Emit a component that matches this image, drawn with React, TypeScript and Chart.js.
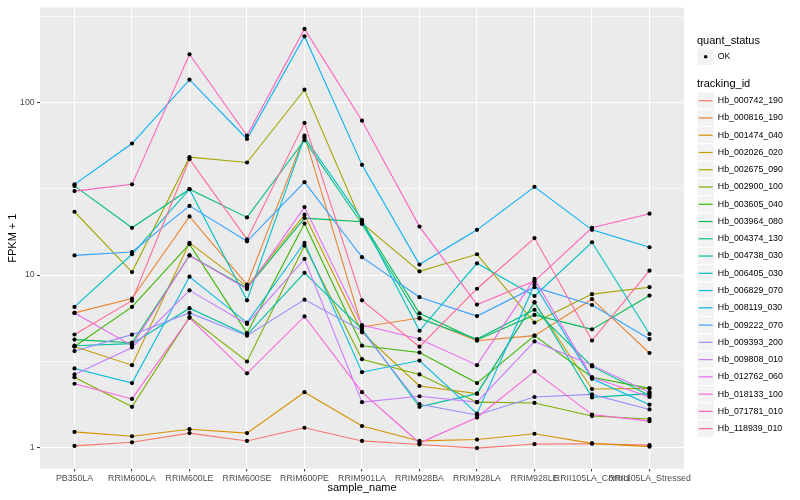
import React, { useEffect, useRef } from "react";
import { Chart, registerables } from "chart.js";
Chart.register(...registerables);

const sampleNames = [
  "PB350LA", "RRIM600LA", "RRIM600LE", "RRIM600SE", "RRIM600PE", "RRIM901LA",
  "RRIM928BA", "RRIM928LA", "RRIM928LE", "RRII105LA_Control", "RRII105LA_Stressed",
];

const trackingIds = [
  "Hb_000742_190", "Hb_000816_190", "Hb_001474_040", "Hb_002026_020", "Hb_002675_090",
  "Hb_002900_100", "Hb_003605_040", "Hb_003964_080", "Hb_004374_130", "Hb_004738_030",
  "Hb_006405_030", "Hb_006829_070", "Hb_008119_030", "Hb_009222_070", "Hb_009393_200",
  "Hb_009808_010", "Hb_012762_060", "Hb_018133_100", "Hb_071781_010", "Hb_118939_010",
];

const seriesColors = [
  "#F8766D", "#EA8331", "#D89000", "#C09B00", "#A3A500", "#7CAE00", "#39B600", "#00BB4E",
  "#00BF7D", "#00C1A3", "#00BFC4", "#00BAE0", "#00B0F6", "#35A2FF", "#9590FF", "#C77CFF",
  "#E76BF3", "#FA62DB", "#FF62BC", "#FF6C91",
];

// FPKM + 1 values per sample (same order as sampleNames)
const hb000742_190 = [1.02, 1.07, 1.21, 1.09, 1.3, 1.09, 1.04, 0.99, 1.045, 1.05, 1.03];
const hb000816_190 = [6.03, 7.3, 21.9, 8.8, 64.4, 5.0, 5.63, 4.16, 4.45, 7.24, 3.53];
const hb001474_040 = [1.23, 1.16, 1.275, 1.21, 2.09, 1.33, 1.09, 1.11, 1.2, 1.055, 1.01];
const hb002026_020 = [3.85, 3.0, 15.4, 8.6, 22.4, 4.65, 2.27, 2.05, 6.93, 2.18, 2.2];
const hb002675_090 = [23.3, 10.4, 48.3, 45.0, 119, 20.0, 10.5, 13.2, 5.3, 7.75, 8.5];
const hb002900_100 = [2.55, 1.72, 5.7, 3.15, 14.8, 3.25, 2.65, 1.83, 1.81, 1.52, 1.46];
const hb003605_040 = [3.85, 6.53, 15.1, 4.6, 19.9, 3.89, 3.55, 2.36, 4.45, 2.55, 2.2];
const hb003964_080 = [4.22, 4.05, 13.0, 8.4, 21.4, 20.4, 6.0, 4.2, 5.87, 4.84, 7.6];
const hb004374_130 = [32.9, 18.8, 31.5, 21.6, 60.6, 19.8, 5.6, 4.25, 6.29, 2.95, 2.0];
const hb004738_030 = [3.89, 4.0, 6.42, 4.5, 10.3, 4.86, 1.72, 2.05, 6.97, 1.95, 2.05];
const hb006405_030 = [6.53, 13.2, 31.5, 7.13, 63.0, 20.9, 4.75, 11.7, 7.56, 15.5, 4.55];
const hb006829_070 = [2.87, 2.36, 9.78, 5.3, 15.4, 2.73, 3.19, 1.57, 8.81, 2.5, 1.77];
const hb008119_030 = [33.6, 58.0, 136, 61.6, 243, 43.6, 11.5, 18.3, 32.5, 18.3, 14.5];
const hb009222_070 = [13.0, 13.6, 25.2, 15.7, 34.6, 12.7, 7.44, 5.78, 8.5, 6.7, 4.25];
const hb009393_200 = [3.62, 4.51, 6.03, 4.45, 7.2, 4.75, 1.78, 1.54, 1.96, 2.03, 1.66];
const hb009808_010 = [2.65, 3.8, 8.15, 5.2, 12.4, 1.83, 1.98, 1.83, 4.12, 3.0, 2.09];
const hb012762_060 = [6.03, 3.9, 13.0, 8.3, 24.8, 5.12, 4.25, 3.0, 9.5, 2.55, 1.96];
const hb018133_100 = [2.34, 1.91, 5.65, 2.69, 5.75, 2.09, 1.06, 1.49, 2.76, 1.55, 1.42];
const hb071781_010 = [30.7, 33.6, 191, 64.5, 268, 78.7, 19.1, 6.74, 9.22, 18.8, 22.7];
const hb118939_010 = [4.52, 7.1, 47, 16.1, 76.4, 7.13, 3.84, 8.33, 16.4, 4.17, 10.6];

const seriesValues = [
  hb000742_190, hb000816_190, hb001474_040, hb002026_020, hb002675_090,
  hb002900_100, hb003605_040, hb003964_080, hb004374_130, hb004738_030,
  hb006405_030, hb006829_070, hb008119_030, hb009222_070, hb009393_200,
  hb009808_010, hb012762_060, hb018133_100, hb071781_010, hb118939_010,
];

const yTickValues = [1, Math.sqrt(10), 10, Math.sqrt(1000), 100, Math.sqrt(100000)];
const yTickLabels = ["1", "", "10", "", "100", ""];
const legendStatus = ["OK"];

const FONT = '"Liberation Sans", Arial, sans-serif';

const panelBg = {
  id: "panelBg",
  beforeDraw(chart: any) {
    const { ctx, chartArea: a } = chart;
    ctx.save();
    ctx.fillStyle = "#EBEBEB";
    ctx.fillRect(a.left, a.top, a.right - a.left, a.bottom - a.top);
    ctx.restore();
  },
};

const ggLegend = {
  id: "ggLegend",
  afterDraw(chart: any) {
    const ctx = chart.ctx;
    const x0 = 697;
    const key = 17.28;
    ctx.save();
    ctx.textBaseline = "middle";
    ctx.textAlign = "left";
    ctx.fillStyle = "#000000";
    ctx.font = `11px ${FONT}`;
    ctx.fillText("quant_status", x0, 41);
    legendStatus.forEach((s, i) => {
      const cy = 56.7 + i * key;
      ctx.fillStyle = "#F2F2F2";
      ctx.fillRect(x0, cy - key / 2, key, key);
      ctx.strokeStyle = "#FFFFFF";
      ctx.lineWidth = 1;
      ctx.strokeRect(x0, cy - key / 2, key, key);
      ctx.fillStyle = "#000000";
      ctx.beginPath();
      ctx.arc(x0 + key / 2, cy, 1.8, 0, Math.PI * 2);
      ctx.fill();
      ctx.font = `8.8px ${FONT}`;
      ctx.fillText(s, x0 + key + 3.5, cy);
    });
    ctx.font = `11px ${FONT}`;
    ctx.fillStyle = "#000000";
    ctx.fillText("tracking_id", x0, 84.3);
    trackingIds.forEach((id, i) => {
      const cy = 100.7 + i * 17.26;
      ctx.fillStyle = "#F2F2F2";
      ctx.fillRect(x0, cy - key / 2, key, key);
      ctx.strokeStyle = "#FFFFFF";
      ctx.lineWidth = 1;
      ctx.strokeRect(x0, cy - key / 2, key, key);
      ctx.strokeStyle = seriesColors[i];
      ctx.lineWidth = 1.2;
      ctx.beginPath();
      ctx.moveTo(x0 + 1.7, cy);
      ctx.lineTo(x0 + key - 1.7, cy);
      ctx.stroke();
      ctx.fillStyle = "#000000";
      ctx.font = `8.8px ${FONT}`;
      ctx.fillText(id, x0 + key + 3.5, cy);
    });
    ctx.restore();
  },
};

export default function App() {
  const ref = useRef<HTMLCanvasElement | null>(null);
  useEffect(() => {
    if (!ref.current) return;
    const lineSets = seriesValues.map((vals, si) => ({
      type: "line" as const,
      label: trackingIds[si],
      data: vals.map((v, i) => ({ x: i, y: v })),
      borderColor: seriesColors[si],
      backgroundColor: seriesColors[si],
      borderWidth: 1.1,
      pointRadius: 0,
      tension: 0,
      fill: false,
      order: 100 - si,
    }));
    const pointSet = {
      type: "scatter" as const,
      label: "quant_status",
      data: seriesValues.flatMap((vals) => vals.map((v, i) => ({ x: i, y: v }))),
      backgroundColor: "#000000",
      borderWidth: 0,
      pointRadius: 2.1,
      showLine: false,
      order: 0,
    };
    const chart = new Chart(ref.current, {
      type: "line",
      data: { datasets: [...lineSets, pointSet] as any },
      options: {
        animation: false,
        responsive: false,
        events: [],
        layout: { padding: { top: 5, right: 116, left: 0, bottom: 0 } },
        plugins: { legend: { display: false }, tooltip: { enabled: false } },
        scales: {
          x: {
            type: "linear",
            min: -0.6,
            max: 10.6,
            afterFit: (s: any) => { s.height = 31.3; },
            afterBuildTicks: (s: any) => { s.ticks = sampleNames.map((_, i) => ({ value: i })); },
            grid: {
              color: "#FFFFFF",
              lineWidth: 1.1,
              tickColor: "#333333",
              tickLength: 2.7,
              tickWidth: 1,
            },
            border: { display: false },
            ticks: {
              autoSkip: false,
              maxRotation: 0,
              padding: 1.5,
              color: "#4D4D4D",
              font: { family: FONT, size: 8.8 },
              callback: (v: any) => sampleNames[Math.round(Number(v))] ?? "",
            },
            title: {
              display: true,
              text: "sample_name",
              color: "#000000",
              font: { family: FONT, size: 11 },
              padding: { top: 0, bottom: 5.4 },
            },
          },
          y: {
            type: "logarithmic",
            min: 0.752,
            max: 356.6,
            afterFit: (s: any) => { s.width = 40; },
            afterBuildTicks: (s: any) => { s.ticks = yTickValues.map((v) => ({ value: v })); },
            grid: {
              color: "#FFFFFF",
              lineWidth: (c: any) => (yTickLabels[c.index] ? 1.1 : 0.55),
              tickColor: (c: any) => (yTickLabels[c.index] ? "#333333" : "rgba(0,0,0,0)"),
              tickLength: 3,
              tickWidth: 1,
            },
            border: { display: false },
            ticks: {
              autoSkip: false,
              padding: 2.3,
              color: "#4D4D4D",
              font: { family: FONT, size: 8.8 },
              callback: (_v: any, i: number) => yTickLabels[i] ?? "",
            },
            title: {
              display: true,
              text: "FPKM + 1",
              color: "#000000",
              font: { family: FONT, size: 11 },
              padding: { top: 6, bottom: 0 },
            },
          },
        },
      },
      plugins: [panelBg, ggLegend],
    } as any);
    return () => chart.destroy();
  }, []);
  return (
    <div style={{ position: "absolute", left: 0, top: 0, width: 800, height: 500, background: "#FFFFFF" }}>
      <canvas ref={ref} width={800} height={500} style={{ width: 800, height: 500, display: "block" }} />
    </div>
  );
}
